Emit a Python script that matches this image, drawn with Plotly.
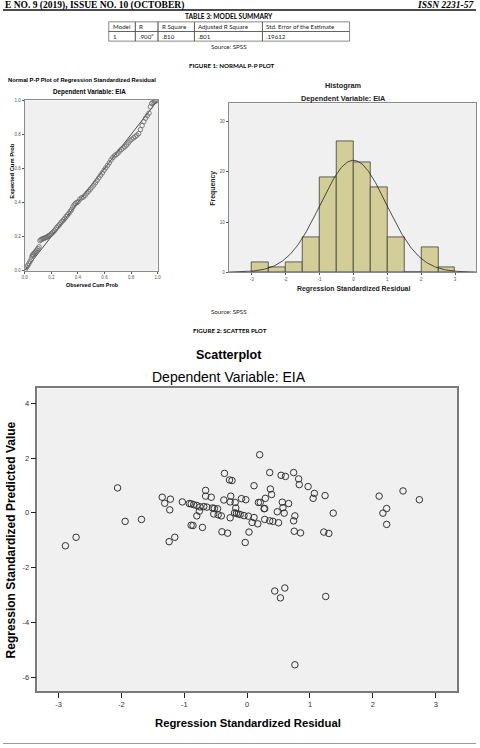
import numpy as np
import plotly.graph_objects as go

W, H = 480, 748

# ---------------- data ----------------
table_cols = ["Model", "R", "R Square", "Adjusted R Square", "Std. Error of the Estimate"]
table_vals = ["1", ".900<sup>a</sup>", ".810", ".801", ".19612"]

pp_observed = [0.005, 0.014, 0.023, 0.032, 0.041, 0.050, 0.055, 0.060, 0.065, 0.072,
               0.078, 0.085, 0.092, 0.100, 0.108, 0.115, 0.122, 0.130, 0.138, 0.146,
               0.154, 0.162, 0.170, 0.178, 0.186, 0.194, 0.202, 0.212, 0.222, 0.232,
               0.242, 0.252, 0.262, 0.272, 0.282, 0.292, 0.302, 0.312, 0.322, 0.332,
               0.342, 0.352, 0.362, 0.372, 0.382, 0.392, 0.402, 0.415, 0.428, 0.441,
               0.454, 0.467, 0.480, 0.493, 0.506, 0.519, 0.532, 0.545, 0.558, 0.571,
               0.584, 0.597, 0.610, 0.623, 0.636, 0.649, 0.662, 0.675, 0.688, 0.701,
               0.714, 0.727, 0.740, 0.753, 0.766, 0.779, 0.792, 0.805, 0.818, 0.831,
               0.844, 0.857, 0.870, 0.883, 0.896, 0.909, 0.922, 0.935, 0.945, 0.955,
               0.965, 0.975, 0.985, 0.995]
pp_expected = [0.008, 0.020, 0.030, 0.042, 0.055, 0.068, 0.085, 0.092, 0.096, 0.102,
               0.108, 0.115, 0.122, 0.130, 0.140, 0.176, 0.182, 0.185, 0.188, 0.190,
               0.193, 0.196, 0.199, 0.203, 0.207, 0.212, 0.218, 0.225, 0.233, 0.243,
               0.254, 0.262, 0.270, 0.281, 0.290, 0.298, 0.307, 0.318, 0.327, 0.336,
               0.347, 0.358, 0.373, 0.386, 0.395, 0.400, 0.405, 0.420, 0.428, 0.432,
               0.442, 0.455, 0.466, 0.478, 0.490, 0.503, 0.516, 0.530, 0.545, 0.560,
               0.574, 0.590, 0.604, 0.618, 0.633, 0.650, 0.664, 0.674, 0.682, 0.690,
               0.702, 0.712, 0.720, 0.728, 0.738, 0.750, 0.762, 0.772, 0.780, 0.787,
               0.795, 0.805, 0.828, 0.852, 0.875, 0.895, 0.910, 0.925, 0.962, 0.982,
               0.988, 0.992, 0.996, 0.999]

hist_bin_left = [-3.0, -2.5, -2.0, -1.5, -1.0, -0.5, 0.0, 0.5, 1.0, 1.5, 2.0, 2.5]
hist_counts = [2, 1, 2, 7, 19, 26, 22, 17, 7, 0, 5, 1]
hist_bin_width = 0.5
curve_mean = 0.0
curve_sd = 0.975
curve_n = 109

resid = [-2.89, -2.72, -2.06, -1.94, -1.68, -1.35, -1.31, -1.22, -1.23, -1.24,
         -1.15, -1.03, -0.92, -0.89, -0.85, -0.80, -0.75, -0.76, -0.80, -0.89,
         -0.86, -0.71, -0.66, -0.66, -0.57, -0.69, -0.64, -0.55, -0.52, -0.47,
         -0.53, -0.46, -0.41, -0.40, -0.31, -0.36, -0.28, -0.24, -0.37, -0.26,
         -0.27, -0.19, -0.18, -0.27, -0.20, -0.17, -0.14, -0.11, -0.05, 0.02,
         -0.09, -0.02, 0.11, 0.08, 0.17, 0.03, -0.03, 0.11, 0.20, 0.18,
         0.21, 0.27, 0.28, 0.29, 0.28, 0.36, 0.41, 0.36, 0.37, 0.39,
         0.48, 0.50, 0.54, 0.61, 0.56, 0.57, 0.59, 0.66, 0.74, 0.82,
         0.83, 0.74, 0.76, 0.75, 0.85, 0.97, 1.07, 1.05, 1.24, 1.37,
         1.22, 1.30, 2.10, 2.16, 2.22, 2.22, 2.48, 2.74, 0.44, 0.60,
         0.53, 1.25, 0.76]
pred = [-1.20, -0.89, 0.91, -0.31, -0.24, 0.57, 0.35, 0.50, 0.11, -1.05,
        -0.89, 0.40, 0.34, 0.33, 0.30, 0.27, 0.22, 0.06, -0.11, -0.45,
        -0.46, -0.53, 0.82, 0.61, 0.57, 0.23, 0.21, 0.18, 0.16, 0.15,
        -0.04, -0.07, -0.11, -0.69, -0.74, 1.44, 1.20, 1.18, 0.47, 0.61,
        0.40, 0.38, 0.18, -0.18, 0.00, -0.02, -0.04, -0.06, -0.10, -0.12,
        0.52, 0.48, -0.17, -0.35, -0.40, -0.70, -1.08, 0.99, 2.12, 0.38,
        0.38, 0.15, 0.16, 0.53, -0.24, -0.29, -0.31, 1.47, 0.87, 0.67,
        0.04, -0.36, 1.37, 1.33, 0.39, 0.19, -0.01, 0.34, 1.47, 1.24,
        1.03, -0.29, -0.11, -0.67, -0.73, 0.96, 0.71, 0.53, 0.63, -0.01,
        -0.70, -0.75, 0.61, -0.01, 0.16, -0.42, 0.80, 0.48, -2.85, -2.74,
        -3.10, -3.05, -5.54]

# ---------------- helpers ----------------
def px(x):
    return x / W

def py(y):
    return 1 - y / H

def T(text, x, y, size, family="Liberation Sans", bold=False, color="#000",
      angle=0, xanchor="center"):
    if bold:
        text = f"<b>{text}</b>"
    return dict(text=text, x=px(x), y=py(y), xref="paper", yref="paper",
                showarrow=False, font=dict(size=size, family=family, color=color),
                textangle=angle, xanchor=xanchor, yanchor="middle")

SANS = "Liberation Sans, Arial, sans-serif"
DOC = "Lato, Open Sans, sans-serif"

fig = go.Figure()

# P-P plot
fig.add_trace(go.Scatter(x=[0, 1], y=[0, 1], mode="lines",
                         line=dict(color="#222", width=0.8),
                         xaxis="x", yaxis="y", showlegend=False, hoverinfo="skip"))
fig.add_trace(go.Scatter(x=pp_observed, y=pp_expected, mode="markers",
                         marker=dict(symbol="circle-open", size=4.5, color="#666",
                                     line=dict(color="#666", width=0.8)),
                         xaxis="x", yaxis="y", showlegend=False))

# Histogram
centers = [b + hist_bin_width / 2 for b in hist_bin_left]
fig.add_trace(go.Bar(x=centers, y=hist_counts, width=hist_bin_width,
                     marker=dict(color="#d3ce97", line=dict(color="#3c3c3c", width=0.8)),
                     xaxis="x2", yaxis="y2", showlegend=False))
cx = np.linspace(-3.7, 3.65, 300)
cy = curve_n * hist_bin_width * np.exp(-0.5 * ((cx - curve_mean) / curve_sd) ** 2) / (curve_sd * np.sqrt(2 * np.pi))
fig.add_trace(go.Scatter(x=cx, y=cy, mode="lines", line=dict(color="#222", width=0.8),
                         xaxis="x2", yaxis="y2", showlegend=False, hoverinfo="skip"))

# Scatterplot
fig.add_trace(go.Scatter(x=resid, y=pred, mode="markers",
                         marker=dict(symbol="circle-open", size=6.5, color="#333",
                                     line=dict(color="#333", width=1)),
                         xaxis="x3", yaxis="y3", showlegend=False))

small_tick = dict(size=4.5, family=SANS, color="#555")
frame = dict(showline=True, linecolor="#8a8a8a", linewidth=1, mirror=True,
             showgrid=False, zeroline=False, ticks="outside", tickcolor="#555")
big_frame = {**frame, "linewidth": 1.5, "linecolor": "#7a7a7a", "tickcolor": "#222"}

fig.update_layout(
    width=W, height=H, autosize=False,
    margin=dict(l=0, r=0, t=0, b=0),
    paper_bgcolor="white", plot_bgcolor="#f0f0f0",
    bargap=0,
    xaxis=dict(domain=[px(22), px(157)], range=[0, 1], anchor="y",
               tickvals=[0, 0.2, 0.4, 0.6, 0.8, 1.0],
               ticktext=["0.0", "0.2", "0.4", "0.6", "0.8", "1.0"],
               ticklen=2, tickfont=small_tick, **frame),
    yaxis=dict(domain=[py(270.5), py(99)], range=[0, 1], anchor="x",
               tickvals=[0, 0.2, 0.4, 0.6, 0.8, 1.0],
               ticktext=["0.0", "0.2", "0.4", "0.6", "0.8", "1.0"],
               ticklen=2, tickfont=small_tick, **frame),
    xaxis2=dict(domain=[px(229), 1.0], range=[-3.68, 3.616], anchor="y2",
                tickvals=[-3, -2, -1, 0, 1, 2, 3],
                ticktext=["-3", "-2", "-1", "0", "1", "2", "3"],
                ticklen=2, tickfont=small_tick, **frame),
    yaxis2=dict(domain=[py(272), py(102)], range=[0, 33.66], anchor="x2",
                tickvals=[0, 10, 20, 30], ticktext=["0", "10", "20", "30"],
                ticklen=2, tickfont=small_tick, **frame),
    xaxis3=dict(domain=[px(35), px(461)], range=[-3.334, 3.343], anchor="y3",
                tickvals=[-3, -2, -1, 0, 1, 2, 3],
                ticktext=["-3", "-2", "-1", "0", "1", "2", "3"],
                ticklen=5, tickfont=dict(size=7.5, family=SANS, color="#333"),
                **big_frame),
    yaxis3=dict(domain=[py(694), py(389)], range=[-6.51, 4.54], anchor="x3",
                tickvals=[-6, -4, -2, 0, 2, 4],
                ticktext=["-6", "-4", "-2", "0", "2", "4"],
                ticklen=5, tickfont=dict(size=7.5, family=SANS, color="#333"),
                **big_frame),
)

ann = []
shapes = []

# page header (partly cut at the top edge, as in the source page)
ann.append(T("E NO. 9 (2019), ISSUE NO. 10 (OCTOBER)", 0, 3.5, 9.5, "Liberation Serif", True, xanchor="left"))
ann.append(T("<i>ISSN 2231-57</i>", 480, 3.5, 9.5, "Liberation Serif", True, xanchor="right"))
shapes.append(dict(type="line", xref="paper", yref="paper", x0=0, x1=1, y0=py(8), y1=py(8),
                   line=dict(color="#111", width=1.5)))

# table
ann.append(T("TABLE 3: MODEL SUMMARY", 229, 14, 6.6, DOC, True))
col_w = [27, 23, 37, 69, 88.4]
tx = 107.3
row_top = [20, 29.7]
row_h = 9.7
for i, (hdr, val) in enumerate(zip(table_cols, table_vals)):
    for r, txt in enumerate([hdr, val]):
        shapes.append(dict(type="rect", xref="paper", yref="paper",
                           x0=px(tx), x1=px(tx + col_w[i]),
                           y0=py(row_top[r] + row_h), y1=py(row_top[r]),
                           line=dict(color="#555", width=0.7)))
        ann.append(T(txt, tx + 2, row_top[r] + row_h / 2, 6.2, DOC, False, "#222", xanchor="left"))
    tx += col_w[i]
ann.append(T("Source: SPSS", 229, 45, 6.2, DOC, False, "#222"))
ann.append(T("FIGURE 1: NORMAL P-P PLOT", 232, 64, 6.2, DOC, True))

# P-P texts
ann.append(T("Normal P-P Plot of Regression Standardized Residual", 80, 79, 5.8, SANS, True))
ann.append(T("Dependent Variable: EIA", 88, 90.7, 6.3, SANS, True))
ann.append(T("Observed Cum Prob", 91, 285, 5.4, SANS, True))
ann.append(T("Expected Cum Prob", 9, 170, 5.8, SANS, True, angle=-90))

# Histogram texts
ann.append(T("Histogram", 346, 84, 7.3, SANS, True, "#222"))
ann.append(T("Dependent Variable: EIA", 346, 97.3, 7.3, SANS, True, "#222"))
ann.append(T("Regression Standardized Residual", 356, 288.5, 6.9, SANS, True, "#222"))
ann.append(T("Frequency", 213, 187, 6.9, SANS, True, "#222", angle=-90))

ann.append(T("Source: SPSS", 229, 312, 6.2, DOC, False, "#222"))
ann.append(T("FIGURE 2: SCATTER PLOT", 230, 331, 6.2, DOC, True))

# Scatter texts
ann.append(T("Scatterplot", 229, 355, 12.5, SANS, True))
ann.append(T("Dependent Variable: EIA", 229, 378, 14, SANS, False))
ann.append(T("Regression Standardized Residual", 248.5, 726, 11.3, SANS, True))
ann.append(T("Regression Standardized Predicted Value", 8.5, 541.7, 12, SANS, True, angle=-90))

shapes.append(dict(type="line", xref="paper", yref="paper", x0=0, x1=1, y0=py(746.5), y1=py(746.5),
                   line=dict(color="#9a9a9a", width=1.2)))

fig.update_layout(annotations=ann, shapes=shapes)
fig.write_html("out.html")
